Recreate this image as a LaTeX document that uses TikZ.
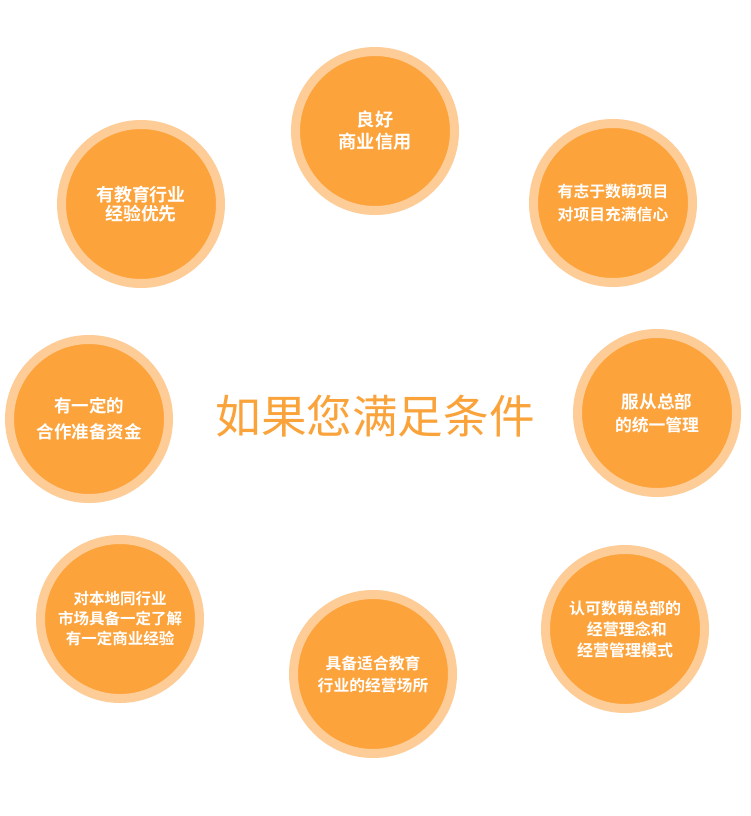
\documentclass[tikz,border=0pt]{standalone}
\usepackage{fontspec}
\setmainfont{Noto Sans CJK SC}
\newfontfamily\cjkbold{Noto Sans CJK SC Bold}
\newfontfamily\cjkreg{Noto Sans CJK SC}
\definecolor{discorange}{RGB}{252,163,60}
\definecolor{ringpeach}{RGB}{254,204,150}
\definecolor{titleorange}{RGB}{250,163,58}
\begin{document}
\begin{tikzpicture}[x=1pt,y=-1pt,
  disc/.style={circle,minimum size=159pt,inner sep=0pt,fill=discorange,draw=ringpeach,line width=9pt,text=white,align=center},
  big/.style={font=\cjkbold\fontsize{17}{22}\selectfont},
  small/.style={font=\cjkbold\fontsize{15.5}{21}\selectfont},
  title/.style={text=titleorange,font=\cjkreg\fontsize{45.6}{50}\selectfont}]
\useasboundingbox[fill=white] (0,0) rectangle (750,816);
\node[disc,font=\cjkbold\fontsize{18.2}{22}\selectfont] (c1) at (375,131) {良好\\商业信用};
\node[disc,font=\cjkbold\fontsize{15.8}{23}\selectfont] (c2) at (613,203) {有志于数萌项目\\对项目充满信心};
\node[disc,font=\cjkbold\fontsize{16.8}{22}\selectfont] (c3) at (657,413) {\raisebox{0pt}[\height][\depth]{\fontsize{17.6}{22}\selectfont 服从总部}\\[1pt]的统一管理};
\node[disc,font=\cjkbold\fontsize{16}{21}\selectfont] (c4) at (625,629) {认可数萌总部的\\\ 经营理念和\\经营管理模式};
\node[disc,font=\cjkbold\fontsize{15.8}{22}\selectfont] (c5) at (373,674) {具备适合教育\\行业的经营场所};
\node[disc,font=\cjkbold\fontsize{15.5}{20}\selectfont] (c6) at (120,619) {对本地同行业\\市场具备一定了解\\有一定商业经验};
\node[disc,font=\cjkbold\fontsize{17.5}{26}\selectfont] (c7) at (89,419) {有一定的\\合作准备资金};
\node[disc,font=\cjkbold\fontsize{17.9}{19}\selectfont] (c8) at (141,204) {有教育行业\\经验优先};
\node[title] (t) at (375,416) {如果您满足条件};
\end{tikzpicture}
\end{document}
